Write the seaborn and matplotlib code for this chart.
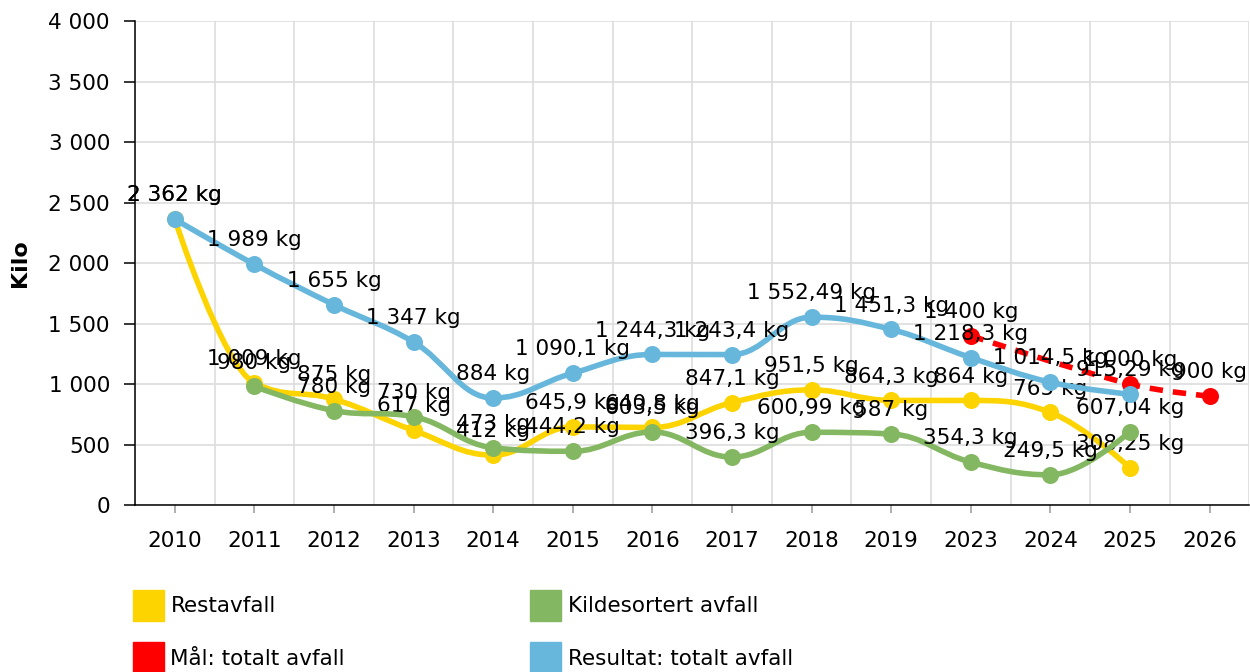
import numpy as np
import pandas as pd
import matplotlib
matplotlib.use("Agg")
import matplotlib.pyplot as plt
from matplotlib.path import Path
from matplotlib.patches import PathPatch, Patch
from matplotlib.ticker import FuncFormatter
import seaborn as sns

sns.set_style("whitegrid")
plt.rcParams["font.family"] = ["DejaVu Sans"]
plt.rcParams["text.color"] = "black"
plt.rcParams["axes.labelcolor"] = "black"
plt.rcParams["xtick.labelcolor"] = "black"
plt.rcParams["ytick.labelcolor"] = "black"

FS = 15.5

# --- data ---
years = ["2010", "2011", "2012", "2013", "2014", "2015", "2016", "2017",
         "2018", "2019", "2023", "2024", "2025", "2026"]
restavfall = [2362, 1009, 875, 617, 412, 645.9, 640.8, 847.1, 951.5, 864.3,
              864, 765, 308.25, None]
kildesortert = [None, 980, 780, 730, 473, 444.2, 603.5, 396.3, 600.99, 587,
                354.3, 249.5, 607.04, None]
maal = [None, None, None, None, None, None, None, None, None, None,
        1400, None, 1000, 900]
resultat = [2362, 1989, 1655, 1347, 884, 1090.1, 1244.3, 1243.4, 1552.49,
            1451.3, 1218.3, 1014.5, 915.29, None]

series = [
    ("Restavfall", restavfall, "#fdd400", "solid"),
    ("Kildesortert avfall", kildesortert, "#84b761", "solid"),
    ("Mål: totalt avfall", maal, "#ff0000", "dashed"),
    ("Resultat: totalt avfall", resultat, "#67b7dc", "solid"),
]


def spline_path(xs, ys, smoothing=1.5):
    """Bezier path through the points, same idea as a highcharts spline."""
    n = len(xs)
    left, right = [None] * n, [None] * n
    d = smoothing + 1
    for i in range(n):
        x, y = xs[i], ys[i]
        if 0 < i < n - 1:
            lx, ly = xs[i - 1], ys[i - 1]
            nx, ny = xs[i + 1], ys[i + 1]
            lcx, lcy = (smoothing * x + lx) / d, (smoothing * y + ly) / d
            rcx, rcy = (smoothing * x + nx) / d, (smoothing * y + ny) / d
            corr = (rcy - lcy) * (rcx - x) / (rcx - lcx) + y - rcy
            lcy += corr
            rcy += corr
            if lcy > ly and lcy > y:
                lcy = max(ly, y); rcy = 2 * y - lcy
            elif lcy < ly and lcy < y:
                lcy = min(ly, y); rcy = 2 * y - lcy
            if rcy > ny and rcy > y:
                rcy = max(ny, y); lcy = 2 * y - rcy
            elif rcy < ny and rcy < y:
                rcy = min(ny, y); lcy = 2 * y - rcy
            left[i], right[i] = (lcx, lcy), (rcx, rcy)
        else:
            left[i] = right[i] = (x, y)
    verts = [(xs[0], ys[0])]
    codes = [Path.MOVETO]
    for i in range(1, n):
        verts += [right[i - 1], left[i], (xs[i], ys[i])]
        codes += [Path.CURVE4] * 3
    return Path(verts, codes)


def fmt_kg(v):
    s = f"{v:,.2f}".rstrip("0").rstrip(".")
    return s.replace(",", " ").replace(".", ",") + " kg"


fig = plt.figure(figsize=(12.5, 6.72), dpi=100)
ax = fig.add_axes([0.108, 0.2485, 0.8915, 0.7202])

for k, (name, vals, color, style) in enumerate(series):
    df = pd.DataFrame({"x": np.arange(len(years)), "y": vals}).dropna()
    xs, ys = df["x"].tolist(), df["y"].tolist()
    ls = (0, (2.4, 1.8)) if style == "dashed" else "solid"
    ax.add_patch(PathPatch(spline_path(xs, ys), facecolor="none", edgecolor=color,
                           lw=4, linestyle=ls, capstyle="butt", zorder=2 + 2 * k))
    sns.scatterplot(data=df, x="x", y="y", color=color, s=150, linewidth=0,
                    ax=ax, zorder=2 + 2 * k, legend=False)
    for x, y in zip(xs, ys):
        ax.annotate(fmt_kg(y), (x, y), xytext=(0, 10), textcoords="offset points",
                    ha="center", va="bottom", fontsize=FS, color="black",
                    zorder=3 + 2 * k)

ax.set_xlim(-0.5, len(years) - 0.5)
ax.set_ylim(0, 4000)
ax.set_xticks(np.arange(len(years)))
ax.set_xticklabels(years)
ax.set_xticks(np.arange(-0.5, len(years), 1), minor=True)
ax.set_yticks(np.arange(0, 4001, 500))
ax.yaxis.set_major_formatter(FuncFormatter(lambda v, p: f"{int(v):,}".replace(",", " ")))

ax.grid(False)
ax.grid(which="minor", axis="x", color="#dddddd", lw=1.2)
ax.grid(which="major", axis="y", color="#dddddd", lw=1.2)
ax.set_axisbelow(True)

for side in ["top", "right"]:
    ax.spines[side].set_visible(False)
for side in ["left", "bottom"]:
    ax.spines[side].set_color("black")
    ax.spines[side].set_linewidth(1.1)

ax.tick_params(axis="y", which="major", direction="out", length=8, width=1.1,
               color="black", pad=10, labelsize=FS, left=True)
ax.tick_params(axis="x", which="major", direction="out", length=6, width=1.1,
               color="#999999", pad=12.5, labelsize=FS, bottom=True)
ax.tick_params(which="minor", length=0)

ax.set_xlabel("")
ax.set_ylabel("Kilo", fontsize=FS + 0.5, fontweight="bold", labelpad=13)

handles = [Patch(color=c, label=n) for n, _, c, _ in series]
order = [0, 2, 1, 3]
fig.legend([handles[i] for i in order], [handles[i].get_label() for i in order],
           loc="upper left", bbox_to_anchor=(133 / 1250, 1 - 589.5 / 672), ncol=2,
           frameon=False, fontsize=FS, handlelength=1.44, handleheight=1.84,
           handletextpad=0.3, columnspacing=8.6, labelspacing=1.02,
           borderpad=0, borderaxespad=0)

fig.savefig("out.png", dpi=100)
